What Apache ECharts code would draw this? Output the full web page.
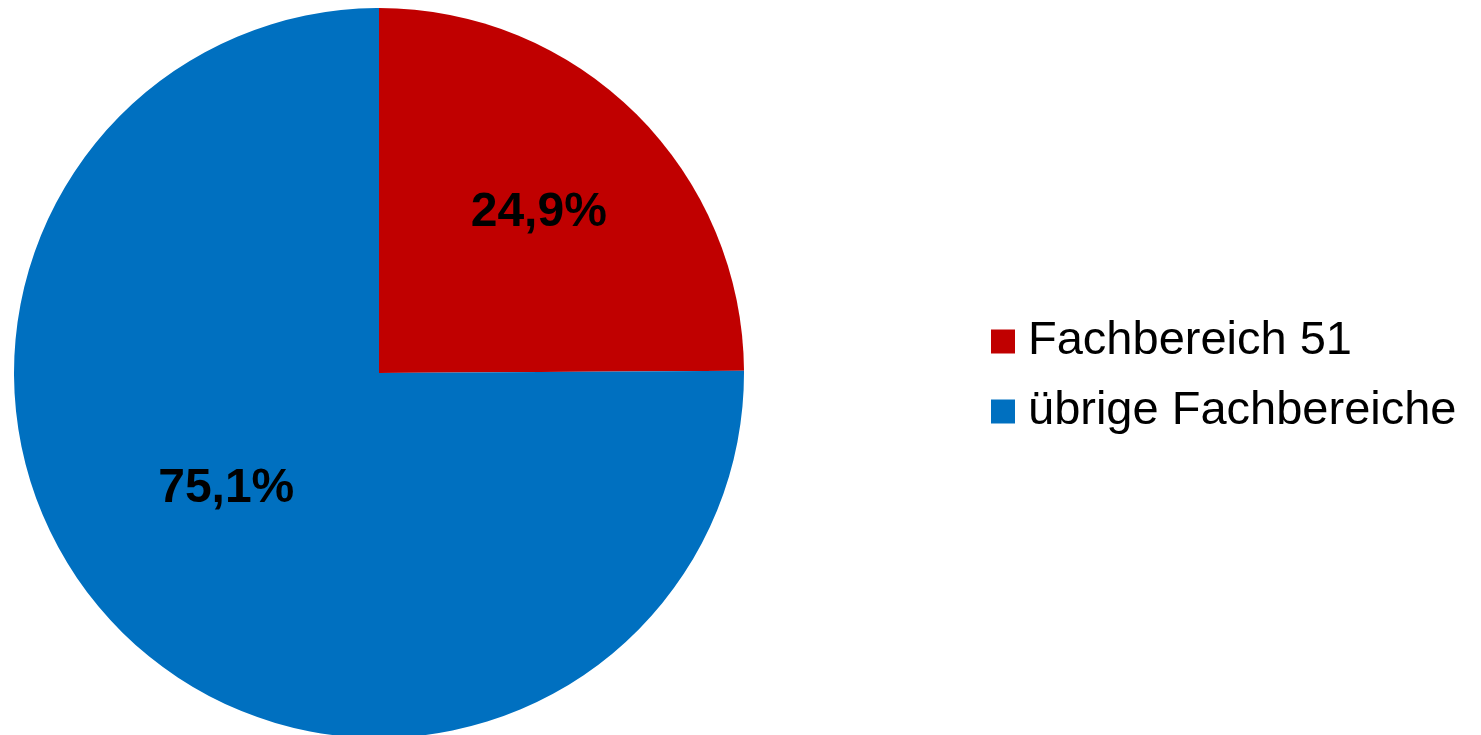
<!DOCTYPE html>
<html>
<head>
<meta charset="utf-8">
<script src="https://cdn.jsdelivr.net/npm/echarts@6/dist/echarts.min.js"></script>
<style>
html,body{margin:0;padding:0;background:#fff;}
#c{width:1481px;height:735px;}
</style>
</head>
<body>
<div id="c"></div>
<script>
var categories = ['Fachbereich 51', 'übrige Fachbereiche'];
var values = [24.9, 75.1];
var colors = ['#C00000', '#0070C0'];
var labelOffsets = [[29, -29], [-22, -16]];

var chart = echarts.init(document.getElementById('c'));
chart.setOption({
  animation: false,
  legend: {
    orient: 'vertical',
    left: 986,
    top: 313,
    icon: 'rect',
    itemWidth: 24,
    itemHeight: 24,
    itemGap: 23,
    textStyle: {
      fontFamily: 'Liberation Sans, Arial, sans-serif',
      fontSize: 47,
      lineHeight: 46,
      color: '#000',
      padding: [0, 0, 0, 8]
    },
    data: categories
  },
  series: [{
    type: 'pie',
    center: [379, 373],
    radius: [0, 365],
    startAngle: 90,
    clockwise: true,
    avoidLabelOverlap: false,
    itemStyle: { borderWidth: 0 },
    emphasis: { disabled: true },
    label: {
      show: true,
      position: 'inside',
      fontFamily: 'Liberation Sans, Arial, sans-serif',
      fontSize: 48,
      fontWeight: 'bold',
      color: '#000',
      formatter: function (p) { return p.value.toFixed(1).replace('.', ',') + '%'; }
    },
    labelLine: { show: false },
    data: categories.map(function (n, i) {
      return { name: n, value: values[i], itemStyle: { color: colors[i] }, label: { offset: labelOffsets[i] } };
    })
  }]
});
</script>
</body>
</html>
